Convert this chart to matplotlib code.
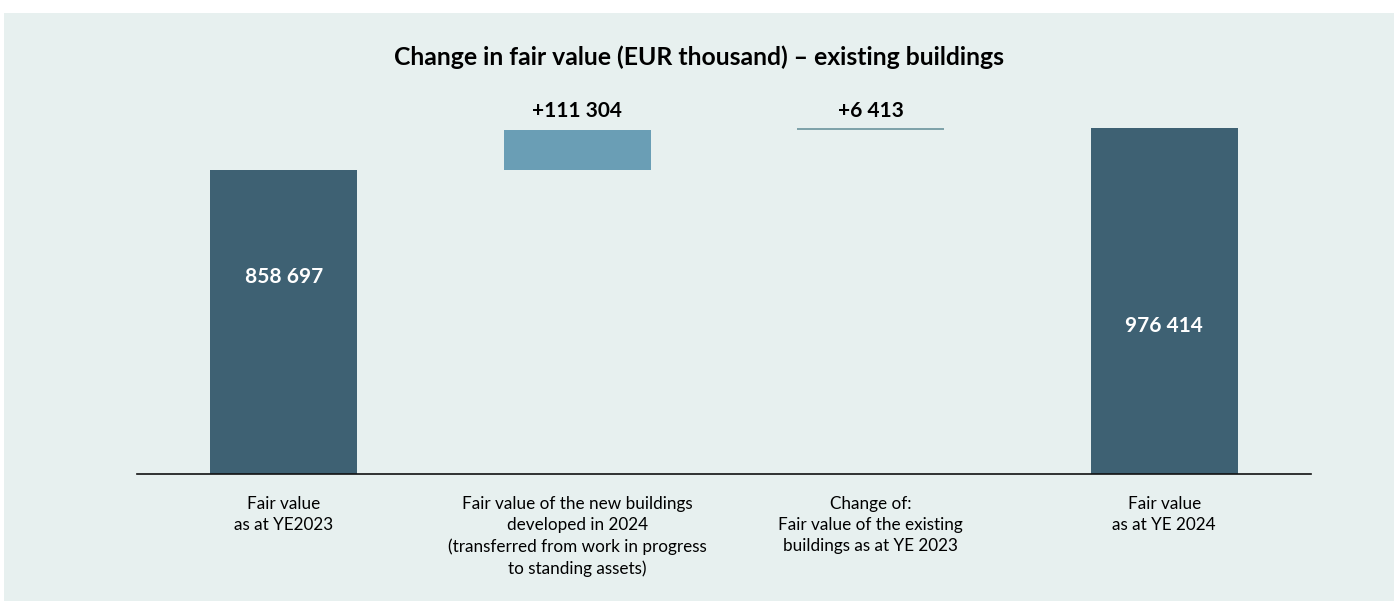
import matplotlib
matplotlib.use('Agg')
import matplotlib.pyplot as plt
import numpy as np

# ── DATA ───────────────────────────────────────────────────────────────────
CATEGORIES = ['Fair value\nas at YE2023',
              'Fair value of the new buildings\ndeveloped in 2024\n(transferred from work in progress\nto standing assets)',
              'Change of:\nFair value of the existing\nbuildings as at YE 2023',
              'Fair value\nas at YE 2024']
START_VALUE = 858697
CHANGES     = [111304, 6413]
END_VALUE   = 976414
VALUE_LABELS = ['858 697', '+111 304', '+6 413', '976 414']

# ── STYLE ──────────────────────────────────────────────────────────────────
BG        = '#E7F0EF'
DARK      = '#3E6173'
CHG_COLS  = ['#6A9EB5', '#7FA3AA']
plt.rcParams['font.family'] = ['Lato', 'DejaVu Sans']

W, H = 1397, 601
fig = plt.figure(figsize=(W / 100, H / 100), dpi=100, facecolor='white')

# light panel behind everything
bg_ax = fig.add_axes([4 / W, 0, 1390 / W, (H - 13) / H], zorder=0)
bg_ax.set_facecolor(BG)
bg_ax.set_xticks([])
bg_ax.set_yticks([])
for s in bg_ax.spines.values():
    s.set_visible(False)

base_px, top_px = 473.7, 128
ax = fig.add_axes([137 / W, (H - base_px) / H, (1311 - 137) / W,
                   (base_px - top_px) / H], zorder=1)
ax.set_facecolor('none')

# waterfall geometry
bottoms = [0, START_VALUE, START_VALUE + CHANGES[0], 0]
heights = [START_VALUE, CHANGES[0], CHANGES[1], END_VALUE]
colors  = [DARK, CHG_COLS[0], CHG_COLS[1], DARK]
x = np.arange(len(CATEGORIES))

ax.bar(x, heights, bottom=bottoms, width=0.5, color=colors, zorder=2)

# totals inside bars
ax.text(x[0], START_VALUE * 0.647, VALUE_LABELS[0], ha='center', va='center',
        color='white', fontsize=15, fontweight='bold')
ax.text(x[3], END_VALUE * 0.427, VALUE_LABELS[3], ha='center', va='center',
        color='white', fontsize=15, fontweight='bold')
# changes above bars
for i in (1, 2):
    ax.annotate(VALUE_LABELS[i], xy=(x[i], END_VALUE), xytext=(0, 12),
                textcoords='offset points', ha='center', va='center',
                fontsize=15, fontweight='bold', color='black',
                annotation_clip=False)

ax.set_xlim(-0.5, 3.5)
ax.set_ylim(0, END_VALUE)
ax.set_yticks([])
ax.set_xticks(x)
ax.set_xticklabels(CATEGORIES, fontsize=12.3, linespacing=1.4, va='top')
ax.tick_params(axis='x', length=0, pad=16)
for s in ('left', 'right', 'top'):
    ax.spines[s].set_visible(False)
ax.spines['bottom'].set_color('#111111')
ax.spines['bottom'].set_linewidth(1.2)
ax.spines['bottom'].set_zorder(3)

fig.text(699 / W, 1 - 57 / H,
         'Change in fair value (EUR thousand) \u2013 existing buildings',
         ha='center', va='center', fontsize=17.8, fontweight='bold')

fig.savefig('out.png', dpi=100, facecolor='white')
